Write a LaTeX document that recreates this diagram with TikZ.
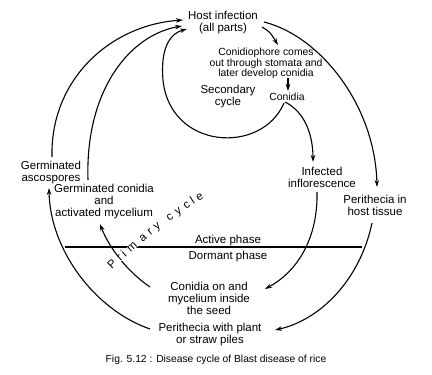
\documentclass[tikz,border=0pt]{standalone}
\usepackage{fontspec}
\setmainfont{Liberation Sans}
\usetikzlibrary{arrows.meta,calc,decorations.text}
\begin{document}
\begin{tikzpicture}[x=1pt,y=-1pt,
  lbl/.style={font=\fontsize{11.5}{12}\selectfont, align=center, inner sep=0pt},
  smalllbl/.style={font=\fontsize{10.4}{10.6}\selectfont, align=center, inner sep=0pt},
  conn/.style={line width=1.1pt, -{Stealth[length=7pt,width=4.5pt]}},
  plainline/.style={line width=1.1pt}]
\useasboundingbox (0,0) rectangle (432,375);
% nodes
\node[lbl] (host) at (223,23) {Host infection\\(all parts)};
\node[smalllbl] (conph) at (266,63.5) {Conidiophore comes\\out through stomata and\\later develop conidia};
\node[lbl] (sec) at (228,97) {Secondary\\cycle};
\node[smalllbl] (conidia) at (287,97) {Conidia};
\node[lbl] (infl) at (322,177) {Infected\\inflorescence};
\node[lbl] (perh) at (375,205) {Perithecia in\\host tissue};
\node[lbl] (gasc) at (51,173) {Germinated\\ascospores};
\node[lbl] (gcon) at (104,202) {Germinated conidia\\and\\activated mycelium};
\node[lbl] (active) at (228,241) {Active phase};
\node[lbl] (dormant) at (228,257) {Dormant phase};
\node[lbl] (seed) at (209,298) {Conidia on and\\mycelium inside\\the seed};
\node[lbl] (pstraw) at (210,335) {Perithecia with plant\\or straw piles};
\node[font=\fontsize{10.3}{11}\selectfont, inner sep=0pt] (caption) at (216,360) {Fig. 5.12 : Disease cycle of Blast disease of rice};
% phase line
\coordinate (lineL) at (65,247);
\coordinate (lineR) at (362,247);
\draw[plainline] (lineL) -- (lineR);
% connectors
\draw[conn] ($(gasc)+(1,-16)$) .. controls (50,80) and (110,25) .. ($(host)+(-40,-3)$);
\draw[conn] ($(gcon)+(-16,-22)$) .. controls (85,90) and (130,35) .. ($(host)+(-41,3)$);
\draw[conn] ($(conidia)+(-3,6)$) .. controls (262,155) and (170,150) .. (163,80) .. controls (160,45) and (172,33) .. ($(host)+(-36,6)$);
\draw[conn] ($(conidia)+(-2,5)$) .. controls (305,112) and (313,135) .. ($(infl)+(-9,-15)$);
\draw[conn] ($(host)+(39,4)$) .. controls (270,32) .. ($(conph)+(12,-18.5)$);
\draw[conn] ($(host)+(41,-1)$) .. controls (320,36) and (375,105) .. ($(perh)+(2,-18)$);
\draw[conn] ($(conph)+(22,14.5)$) -- ($(conidia)+(1,-6)$);
\draw[conn] ($(infl)+(-5,15)$) .. controls (318,235) and (300,270) .. ($(seed)+(56,-9)$);
\draw[conn] ($(perh)+(-3,18)$) .. controls (360,280) and (320,320) .. ($(pstraw)+(65,-5)$);
\draw[conn] ($(pstraw)+(-60,-6)$) .. controls (95,310) and (50,250) .. ($(gasc)+(-2,15)$);
\draw[conn] ($(seed)+(-59,-11)$) .. controls (125,270) and (108,245) .. ($(gcon)+(-4,22)$);
% primary cycle text
\path[font=\fontsize{11.5}{12}\selectfont, decorate,
  decoration={text effects along path, text={Primary cycle},
    text effects/.cd, text along path, fit text to path,
    every character/.style={fill=white, inner sep=0pt, font=\fontsize{11.5}{12}\selectfont}}]
  (112,270) .. controls (132,250) and (165,222) .. (204,198);
\end{tikzpicture}
\end{document}
